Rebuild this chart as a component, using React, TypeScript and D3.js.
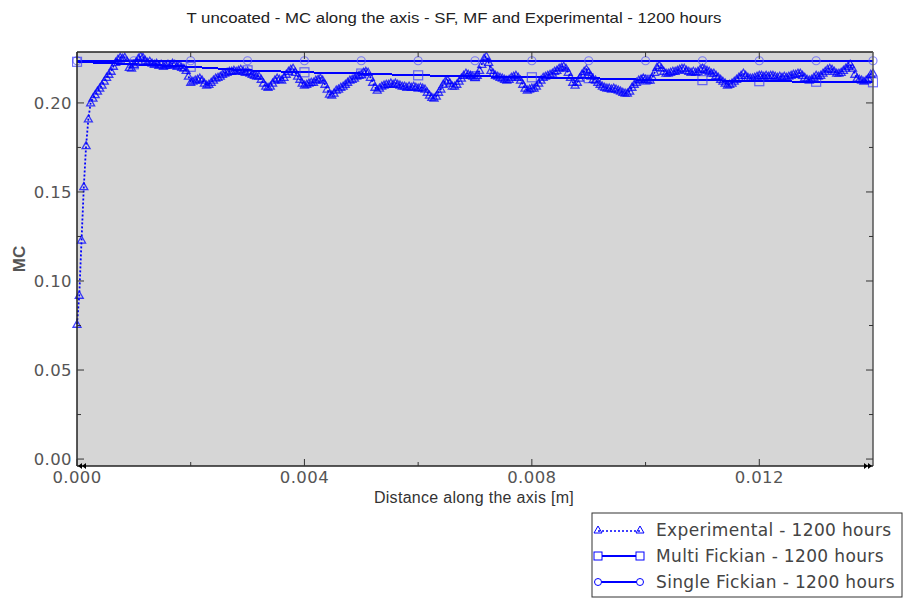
import React from 'react';
import * as d3 from 'd3';

// ---- data ----
const expStep = 0.00004;
const experimental = [
  0.0757, 0.092, 0.123, 0.153, 0.176, 0.191, 0.200,
  0.2027, 0.2047, 0.2066, 0.2083, 0.2100, 0.2122, 0.2144, 0.2161, 0.2178, 0.2206, 0.2228, 0.2245, 0.2256,
  0.2251, 0.2256, 0.2234, 0.2200, 0.2195, 0.2217, 0.2228, 0.2251, 0.2262, 0.2256,
  0.2239, 0.2228, 0.2234, 0.2223, 0.2217, 0.2223, 0.2211, 0.2217, 0.2206, 0.2211,
  0.2217, 0.2211, 0.2223, 0.2217, 0.2206, 0.2211, 0.2200, 0.2195, 0.2183, 0.2150,
  0.2116, 0.2122, 0.2128, 0.2133, 0.2139, 0.2128, 0.2111, 0.2100, 0.2105, 0.2116,
  0.2128, 0.2139, 0.2144, 0.2150, 0.2161, 0.2167, 0.2172, 0.2178, 0.2178, 0.2183,
  0.2178, 0.2183, 0.2189, 0.2178, 0.2172, 0.2178, 0.2167, 0.2161, 0.2155, 0.2150,
  0.2150, 0.2133, 0.2111, 0.2094, 0.2088, 0.2094, 0.2111, 0.2128, 0.2139, 0.2133,
  0.2128, 0.2144, 0.2161, 0.2178, 0.2189, 0.2195, 0.2172, 0.2150, 0.2133, 0.2111,
  0.2100, 0.2105, 0.2111, 0.2116, 0.2116, 0.2128, 0.2133, 0.2139, 0.2128, 0.2105,
  0.2078, 0.2049, 0.2044, 0.2055, 0.2072, 0.2078, 0.2088, 0.2094, 0.2105, 0.2116,
  0.2128, 0.2133, 0.2139, 0.2150, 0.2155, 0.2161, 0.2172, 0.2178, 0.2172, 0.2144,
  0.2116, 0.2088, 0.2072, 0.2083, 0.2094, 0.2100, 0.2105, 0.2105, 0.2111, 0.2105,
  0.2111, 0.2105, 0.2100, 0.2094, 0.2094, 0.2088, 0.2094, 0.2088, 0.2094, 0.2088,
  0.2083, 0.2088, 0.2083, 0.2078, 0.2060, 0.2044, 0.2032, 0.2027, 0.2038, 0.2060,
  0.2078, 0.2105, 0.2122, 0.2128, 0.2111, 0.2094, 0.2094, 0.2105, 0.2122, 0.2139,
  0.2155, 0.2167, 0.2161, 0.2155, 0.2150, 0.2144, 0.2155, 0.2183, 0.2217, 0.2251,
  0.2262, 0.2228, 0.2183, 0.2167, 0.2155, 0.2150, 0.2144, 0.2139, 0.2133, 0.2128,
  0.2133, 0.2144, 0.2150, 0.2155, 0.2144, 0.2128, 0.2105, 0.2083, 0.2072, 0.2078,
  0.2083, 0.2083, 0.2094, 0.2111, 0.2128, 0.2144, 0.2150, 0.2155, 0.2161, 0.2167,
  0.2178, 0.2183, 0.2195, 0.2200, 0.2206, 0.2195, 0.2172, 0.2144, 0.2116, 0.2100,
  0.2116, 0.2139, 0.2161, 0.2178, 0.2189, 0.2172, 0.2150, 0.2133, 0.2128, 0.2116,
  0.2105, 0.2094, 0.2088, 0.2083, 0.2083, 0.2078, 0.2083, 0.2078, 0.2072, 0.2066,
  0.2060, 0.2055, 0.2055, 0.2066, 0.2088, 0.2105, 0.2116, 0.2128, 0.2133, 0.2139,
  0.2133, 0.2128, 0.2128, 0.2144, 0.2172, 0.2200, 0.2211, 0.2195, 0.2178, 0.2167,
  0.2167, 0.2172, 0.2178, 0.2178, 0.2183, 0.2189, 0.2195, 0.2195, 0.2183, 0.2178,
  0.2172, 0.2178, 0.2172, 0.2178, 0.2189, 0.2195, 0.2189, 0.2183, 0.2178, 0.2167,
  0.2167, 0.2155, 0.2144, 0.2133, 0.2122, 0.2111, 0.2100, 0.2105, 0.2111, 0.2122,
  0.2133, 0.2144, 0.2155, 0.2167, 0.2155, 0.2144, 0.2139, 0.2139, 0.2144, 0.2150,
  0.2155, 0.2155, 0.2150, 0.2155, 0.2150, 0.2155, 0.2155, 0.2150, 0.2144, 0.2150,
  0.2144, 0.2150, 0.2144, 0.2150, 0.2155, 0.2161, 0.2161, 0.2167, 0.2167, 0.2155,
  0.2144, 0.2133, 0.2128, 0.2133, 0.2144, 0.2155, 0.2150, 0.2155, 0.2167, 0.2178,
  0.2189, 0.2195, 0.2189, 0.2178, 0.2167, 0.2167, 0.2172, 0.2183, 0.2195, 0.2206,
  0.2217, 0.2195, 0.2161, 0.2139, 0.2133, 0.2128, 0.2122, 0.2128, 0.2139, 0.2161, 0.2167,
];

const fickX = [0, 0.001, 0.002, 0.003, 0.004, 0.005, 0.006, 0.007, 0.008, 0.009, 0.01, 0.011, 0.012, 0.013, 0.014];
const multiFickian = [0.2231, 0.2217, 0.2203, 0.2183, 0.2172, 0.2165, 0.2155, 0.2150, 0.2144, 0.2139, 0.2130, 0.2128, 0.2122, 0.2119, 0.2116];
const singleFickian = [0.2237, 0.2237, 0.2237, 0.2237, 0.2237, 0.2237, 0.2237, 0.2237, 0.2237, 0.2237, 0.2237, 0.2237, 0.2237, 0.2237, 0.2237];

const xDomain = [0, 0.014];
const yDomain = [-0.0039, 0.2286];
const xMajorTicks = [0, 0.004, 0.008, 0.012];
const xMinorTicks = [0.002, 0.006, 0.01];
const yMajorTicks = [0, 0.05, 0.1, 0.15, 0.2];
const yMinorTicks = [0.025, 0.075, 0.125, 0.175];

const title = 'T uncoated - MC along the axis - SF, MF and Experimental - 1200 hours';
const xLabel = 'Distance along the axis [m]';
const yLabel = 'MC';
const legendLabels = ['Experimental - 1200 hours', 'Multi Fickian - 1200 hours', 'Single Fickian - 1200 hours'];

// ---- layout ----
const W = 904, H = 600;
const M = { left: 77, right: 873, top: 52, bottom: 466 };
const BLUE = '#0000ff';
const tickFont = '"DejaVu Sans", Verdana, sans-serif';

const tri = (cx: number, cy: number) => `M${cx},${cy - 4}L${cx + 4},${cy + 3}L${cx - 4},${cy + 3}Z`;

export default function App() {
  const x = d3.scaleLinear().domain(xDomain).range([M.left, M.right]);
  const y = d3.scaleLinear().domain(yDomain).range([M.bottom, M.top]);

  const expPts = experimental.map((v, i) => [x(i * expStep), y(v)] as [number, number]);
  const mfPts = fickX.map((v, i) => [x(v), y(multiFickian[i])] as [number, number]);
  const sfPts = fickX.map((v, i) => [x(v), y(singleFickian[i])] as [number, number]);
  const line = d3.line();

  const legX0 = 598, legX1 = 640, legTextX = 656;
  const legRows = [530, 556, 582];

  return (
    <svg width={W} height={H} style={{ position: 'absolute', left: 0, top: 0, background: '#fff' }}>
      <defs>
        <clipPath id="plotclip">
          <rect x={M.left - 5} y={M.top} width={M.right - M.left + 10} height={M.bottom - M.top} />
        </clipPath>
      </defs>
      <rect x={M.left} y={M.top} width={M.right - M.left} height={M.bottom - M.top} fill="#d6d6d6" />

      {/* title */}
      <text x={(W) / 2 + 2} y={23} textAnchor="middle" fontFamily='"Liberation Sans Narrow", "Liberation Sans", Arial, sans-serif' fontSize={15} fill="#222" textLength={535} lengthAdjust="spacingAndGlyphs">{title}</text>

      <g clipPath="url(#plotclip)">
        {/* single fickian */}
        <path d={line(sfPts) || ''} fill="none" stroke={BLUE} strokeWidth={2} shapeRendering="crispEdges" />
        {sfPts.map((p, i) => (
          <circle key={'sf' + i} cx={p[0]} cy={p[1]} r={4} fill="none" stroke="#5555ff" strokeOpacity={0.7} strokeWidth={1.2} />
        ))}
        {/* multi fickian */}
        <path d={line(mfPts) || ''} fill="none" stroke={BLUE} strokeWidth={2} shapeRendering="crispEdges" />
        {mfPts.map((p, i) => (
          <rect key={'mf' + i} x={p[0] - 4.5} y={p[1] - 4.5} width={9} height={9} fill="none" stroke="#3333ff" strokeOpacity={0.7} strokeWidth={1.2} />
        ))}
        {/* experimental */}
        <path d={line(expPts) || ''} fill="none" stroke={BLUE} strokeWidth={1.8} strokeDasharray="2,2" />
        {expPts.map((p, i) => (
          <path key={'ex' + i} d={tri(p[0], p[1])} fill="none" stroke={BLUE} strokeOpacity={0.75} strokeWidth={1.3} />
        ))}
      </g>

      {/* frame */}
      <line x1={M.left} x2={M.right} y1={M.top} y2={M.top} stroke="#222" strokeWidth={1.5} />
      <line x1={M.right} x2={M.right} y1={M.top} y2={M.bottom} stroke="#555" strokeWidth={1.5} />
      <line x1={M.left} x2={M.left} y1={M.top} y2={M.bottom} stroke="#222" strokeWidth={1.5} />
      <line x1={M.left} x2={M.right} y1={M.bottom} y2={M.bottom} stroke="#222" strokeWidth={1.5} />

      {/* y ticks */}
      {yMajorTicks.map((t) => (
        <g key={'yt' + t}>
          <line x1={M.left} x2={M.left + 7} y1={y(t)} y2={y(t)} stroke="#333" strokeWidth={1} />
          <line x1={M.right} x2={M.right - 7} y1={y(t)} y2={y(t)} stroke="#333" strokeWidth={1} />
          <text x={M.left - 5} y={y(t) + 6} textAnchor="end" fontFamily={tickFont} fontSize={16.5} letterSpacing={0.4} fill="#555">{d3.format('.2f')(t)}</text>
        </g>
      ))}
      {yMinorTicks.map((t) => (
        <g key={'ym' + t}>
          <line x1={M.left} x2={M.left + 4} y1={y(t)} y2={y(t)} stroke="#333" strokeWidth={1} />
          <line x1={M.right} x2={M.right - 4} y1={y(t)} y2={y(t)} stroke="#333" strokeWidth={1} />
        </g>
      ))}

      {/* x ticks */}
      {xMajorTicks.map((t) => (
        <g key={'xt' + t}>
          <line x1={x(t)} x2={x(t)} y1={M.bottom} y2={M.bottom - 7} stroke="#333" strokeWidth={1} />
          <line x1={x(t)} x2={x(t)} y1={M.top} y2={M.top + 7} stroke="#333" strokeWidth={1} />
          <text x={x(t)} y={M.bottom + 17} textAnchor="middle" fontFamily={tickFont} fontSize={16.5} letterSpacing={0.4} fill="#555">{d3.format('.3f')(t)}</text>
        </g>
      ))}
      {xMinorTicks.map((t) => (
        <g key={'xm' + t}>
          <line x1={x(t)} x2={x(t)} y1={M.bottom} y2={M.bottom - 4} stroke="#333" strokeWidth={1} />
          <line x1={x(t)} x2={x(t)} y1={M.top} y2={M.top + 5} stroke="#333" strokeWidth={1} />
        </g>
      ))}

      {/* scroll arrows on x axis */}
      <path d={`M${M.left + 1},${M.bottom}l4,-3v6z M${M.left + 5},${M.bottom}l4,-3v6z`} fill="#000" />
      <path d={`M${M.right - 1},${M.bottom}l-4,-3v6z M${M.right - 5},${M.bottom}l-4,-3v6z`} fill="#000" />

      {/* axis labels */}
      <text x={474} y={503} textAnchor="middle" fontFamily='"Liberation Sans", Arial, sans-serif' fontSize={16} letterSpacing={0.3} fill="#333">{xLabel}</text>
      <text transform={`translate(25,${(M.top + M.bottom) / 2}) rotate(-90)`} textAnchor="middle" fontFamily='"Liberation Sans", Arial, sans-serif' fontWeight="bold" fontSize={17} fill="#555">{yLabel}</text>

      {/* legend */}
      <rect x={592} y={513} width={310} height={84} fill="#fff" stroke="#333" strokeWidth={1} />
      {legRows.map((ly, i) => (
        <g key={'lg' + i}>
          {i === 0 && (
            <g>
              <line x1={legX0} x2={legX1} y1={ly + 1} y2={ly + 1} stroke={BLUE} strokeWidth={1.6} strokeDasharray="2,2" />
              <path d={tri(legX0, ly)} fill="none" stroke={BLUE} strokeWidth={1} />
              <path d={tri(legX1, ly)} fill="none" stroke={BLUE} strokeWidth={1} />
            </g>
          )}
          {i === 1 && (
            <g>
              <line x1={legX0} x2={legX1} y1={ly} y2={ly} stroke={BLUE} strokeWidth={2} />
              <rect x={legX0 - 4} y={ly - 4} width={8} height={8} fill="#fff" stroke={BLUE} strokeWidth={1} />
              <rect x={legX1 - 4} y={ly - 4} width={8} height={8} fill="#fff" stroke={BLUE} strokeWidth={1} />
            </g>
          )}
          {i === 2 && (
            <g>
              <line x1={legX0} x2={legX1} y1={ly} y2={ly} stroke={BLUE} strokeWidth={2} />
              <circle cx={legX0} cy={ly} r={3.5} fill="#fff" stroke={BLUE} strokeWidth={1} />
              <circle cx={legX1} cy={ly} r={3.5} fill="#fff" stroke={BLUE} strokeWidth={1} />
            </g>
          )}
          <text x={legTextX} y={ly + 6} fontFamily={tickFont} fontSize={17} letterSpacing={0.35} fill="#444">{legendLabels[i]}</text>
        </g>
      ))}
    </svg>
  );
}
